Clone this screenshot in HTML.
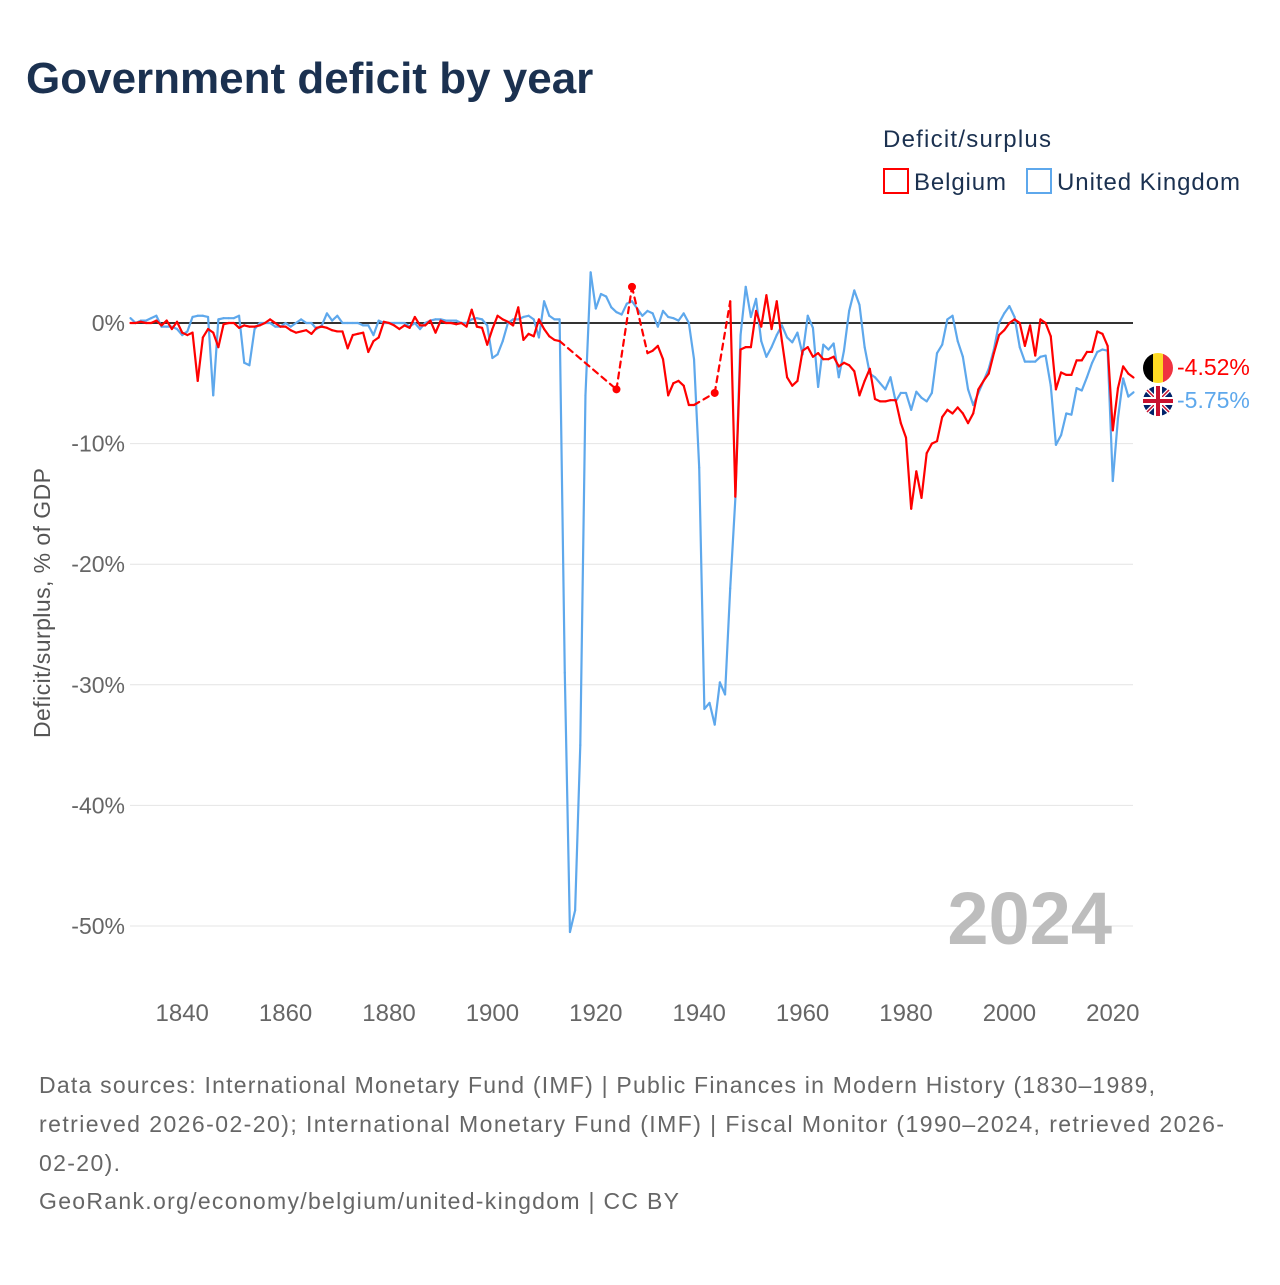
<!DOCTYPE html>
<html><head><meta charset="utf-8"><style>
body{margin:0;background:#fff;width:1280px;height:1280px;overflow:hidden;font-family:"Liberation Sans",sans-serif}
</style></head><body>
<svg width="1280" height="1280" viewBox="0 0 1280 1280" id="svg" font-family="'Liberation Sans', sans-serif">
<text x="26" y="93" font-size="44" font-weight="bold" fill="#1b3150">Government deficit by year</text>
<text x="883" y="147" font-size="24" fill="#1b3150" textLength="168">Deficit/surplus</text>
<g><rect x="884" y="169" width="24" height="24" fill="#fff" stroke="#f00" stroke-width="2"/><text x="914" y="190" font-size="24" fill="#1b3150" textLength="92">Belgium</text></g>
<g><rect x="1027" y="169" width="24" height="24" fill="#fff" stroke="#5ea8ec" stroke-width="2"/><text x="1057" y="190" font-size="24" fill="#1b3150" textLength="183">United Kingdom</text></g>
<text transform="translate(50,603) rotate(-90)" text-anchor="middle" font-size="23" fill="#555" textLength="270">Deficit/surplus, % of GDP</text>
<g id="grid"></g><g id="yticks"></g><g id="xticks"></g>
<text x="1112" y="944" text-anchor="end" font-size="74" font-weight="bold" fill="#bdbdbd">2024</text>
<g id="series"></g>
<g font-size="23" fill="#666">
<text x="39" y="1093" textLength="1116">Data sources: International Monetary Fund (IMF) | Public Finances in Modern History (1830–1989,</text>
<text x="39" y="1132" textLength="1185">retrieved 2026-02-20); International Monetary Fund (IMF) | Fiscal Monitor (1990–2024, retrieved 2026-</text>
<text x="39" y="1171" textLength="81">02-20).</text>
<text x="39" y="1209" textLength="640">GeoRank.org/economy/belgium/united-kingdom | CC BY</text>
</g>
</svg>
<script>
const startYear=1830;
const ukValues=[0.4,0,0.2,0.2,0.4,0.6,-0.3,-0.3,-0.3,-0.5,-1,-0.7,0.5,0.6,0.6,0.5,-6,0.3,0.4,0.4,0.4,0.6,-3.3,-3.5,-0.5,0,0,0,-0.3,-0.3,
0,-0.3,0,0.3,0,0,-0.5,-0.2,0.8,0.2,0.6,0,0,0,0,-0.2,-0.2,-1,0.2,0,
0,0,0,0,-0.3,0,-0.5,0,0.2,0.3,0.3,0.2,0.2,0.2,0,0,0.3,0.4,0.3,-0.2,
-2.9,-2.6,-1.5,0,0.3,0.3,0.5,0.6,0.3,-1.2,1.8,0.6,0.3,0.3,-29,-50.5,-48.7,-35,-6,4.2,
1.2,2.4,2.2,1.3,0.9,0.7,1.6,1.8,1.2,0.6,1,0.8,-0.3,1,0.5,0.4,0.2,0.8,0,-3,
-12,-32,-31.5,-33.3,-29.8,-30.8,-22,-14.5,-1,3,0.5,2,-1.5,-2.8,-2,-1,-0.2,-1.2,-1.6,-0.8,
-2.6,0.6,-0.4,-5.3,-1.8,-2.2,-1.7,-4.5,-2.3,1,2.7,1.5,-2,-4.2,-4.5,-5,-5.5,-4.5,-6.5,-5.8,
-5.8,-7.2,-5.7,-6.2,-6.5,-5.8,-2.5,-1.8,0.3,0.6,-1.5,-2.8,-5.5,-6.8,-5.8,-4.8,-3.8,-2.2,0,0.8,
1.4,0.5,-2,-3.2,-3.2,-3.2,-2.8,-2.7,-5.2,-10.1,-9.3,-7.5,-7.6,-5.4,-5.6,-4.5,-3.3,-2.4,-2.2,-2.3,
-13.1,-7.9,-4.6,-6.1,-5.75];
const beValues=[0,0,0.1,0,0,0.2,-0.2,0.2,-0.5,0.1,-0.8,-1,-0.8,-4.8,-1.2,-0.5,-0.8,-2,-0.1,0,
0,-0.4,-0.2,-0.3,-0.3,-0.2,0,0.3,0,-0.3,-0.3,-0.6,-0.8,-0.7,-0.6,-0.9,-0.4,-0.3,-0.4,-0.6,
-0.7,-0.7,-2.1,-1,-0.9,-0.8,-2.4,-1.5,-1.2,0.1,0,-0.2,-0.5,-0.2,-0.4,0.5,-0.2,-0.2,0.2,-0.8,
0.2,0,0,-0.1,0,-0.3,1.1,-0.3,-0.4,-1.8,-0.5,0.6,0.3,0.1,-0.2,1.3,-1.4,-0.9,-1.1,0.3,
-0.5,-1.1,-1.4,-1.5,null,null,null,null,null,null,null,null,null,null,-5.5,null,null,3,null,null,
-2.5,-2.3,-1.9,-3,-6,-5,-4.8,-5.2,-6.8,-6.8,null,null,null,-5.8,null,null,1.8,-14.4,-2.2,-2,
-2,1,-0.3,2.3,-0.5,1.8,-1.5,-4.5,-5.2,-4.8,-2.3,-2,-2.8,-2.5,-3,-3,-2.8,-3.6,-3.3,-3.5,
-4,-6,-4.8,-3.8,-6.3,-6.5,-6.5,-6.4,-6.4,-8.3,-9.5,-15.4,-12.3,-14.5,-10.8,-10,-9.8,-7.8,-7.2,-7.5,
-7,-7.5,-8.3,-7.5,-5.5,-4.8,-4.2,-2.5,-1,-0.6,0,0.3,0,-1.9,-0.2,-2.7,0.3,0,-1.1,-5.5,
-4.1,-4.3,-4.3,-3.1,-3.1,-2.4,-2.4,-0.7,-0.9,-1.9,-8.9,-5.4,-3.6,-4.2,-4.52];
const yTicks=[0,-10,-20,-30,-40,-50];
const xTicks=[1840,1860,1880,1900,1920,1940,1960,1980,2000,2020];
const NS='http://www.w3.org/2000/svg';
function X(y){return 130.5+(y-1830)*5.17;}
function Y(v){return 323-v*12.06;}
function mk(tag,attrs,parent){const e=document.createElementNS(NS,tag);for(const k in attrs)e.setAttribute(k,attrs[k]);parent.appendChild(e);return e;}
const grid=document.getElementById('grid'),yt=document.getElementById('yticks'),xt=document.getElementById('xticks'),ser=document.getElementById('series');
yTicks.forEach(v=>{
  if(v!==0){const l=mk('line',{x1:130,x2:1133,y1:Y(v),y2:Y(v),stroke:'#e4e4e4','stroke-width':1},grid);
  
  }
  const t=mk('text',{x:125,y:Y(v)+8,'text-anchor':'end','font-size':23,fill:'#666'},yt);t.textContent=v+'%';
  
  
});
xTicks.forEach(y=>{
  const t=mk('text',{x:X(y),y:1021,'text-anchor':'middle','font-size':24,fill:'#666'},xt);t.textContent=y;
  
  
});
function draw(vals,color,name){
  const g=mk('g',{},ser);
  
  
  let prev=null;
  for(let i=0;i<vals.length;i++){
    if(vals[i]===null)continue;
    if(prev!==null){
      const dashed=(i-prev)>1;
      const l=mk('line',{x1:X(startYear+prev),y1:Y(vals[prev]),x2:X(startYear+i),y2:Y(vals[i]),stroke:color,'stroke-width':2.2,'stroke-linecap':'round'},g);
      if(dashed)l.setAttribute('stroke-dasharray','6,5');
      
      
    }
    const isolated=(i===0||vals[i-1]===null)&&(i===vals.length-1||vals[i+1]===null);
    if(isolated){const c=mk('circle',{cx:X(startYear+i),cy:Y(vals[i]),r:4,fill:color},g);
      
      }
    prev=i;
  }
}
mk('line',{x1:130,x2:1133,y1:Y(0),y2:Y(0),stroke:'#333','stroke-width':2},ser);
draw(ukValues,'#5ea8ec','uk');
draw(beValues,'#ff0000','belgium');
const be=beValues[beValues.length-1],uk=ukValues[ukValues.length-1];
const fb=mk('g',{},ser);


const cp=mk('clipPath',{id:'cb'},fb);
mk('circle',{cx:1158,cy:368,r:15},cp);
const gb=mk('g',{'clip-path':'url(#cb)'},fb);
mk('rect',{x:1143,y:353,width:10,height:30,fill:'#000'},gb);
mk('rect',{x:1153,y:353,width:10,height:30,fill:'#fdda24'},gb);
mk('rect',{x:1163,y:353,width:10,height:30,fill:'#ef3340'},gb);
const fu=mk('g',{},ser);


mk('circle',{cx:1158,cy:401,r:15,fill:'#012169'},fu);
mk('line',{x1:1147,y1:390,x2:1169,y2:412,stroke:'#fff','stroke-width':4},fu);
mk('line',{x1:1169,y1:390,x2:1147,y2:412,stroke:'#fff','stroke-width':4},fu);
mk('line',{x1:1147,y1:390,x2:1169,y2:412,stroke:'#c8102e','stroke-width':1.5},fu);
mk('line',{x1:1169,y1:390,x2:1147,y2:412,stroke:'#c8102e','stroke-width':1.5},fu);
mk('rect',{x:1143,y:397,width:30,height:8,fill:'#fff'},fu);
mk('rect',{x:1154,y:386,width:8,height:30,fill:'#fff'},fu);
mk('rect',{x:1143,y:399,width:30,height:4,fill:'#c8102e'},fu);
mk('rect',{x:1156,y:386,width:4,height:30,fill:'#c8102e'},fu);
const tb=mk('text',{x:1177,y:375,'font-size':23,fill:'#f00'},ser);tb.textContent=be.toFixed(2)+'%';


const tu=mk('text',{x:1177,y:408,'font-size':23,fill:'#5ea8ec'},ser);tu.textContent=uk.toFixed(2)+'%';


</script>
</body></html>
